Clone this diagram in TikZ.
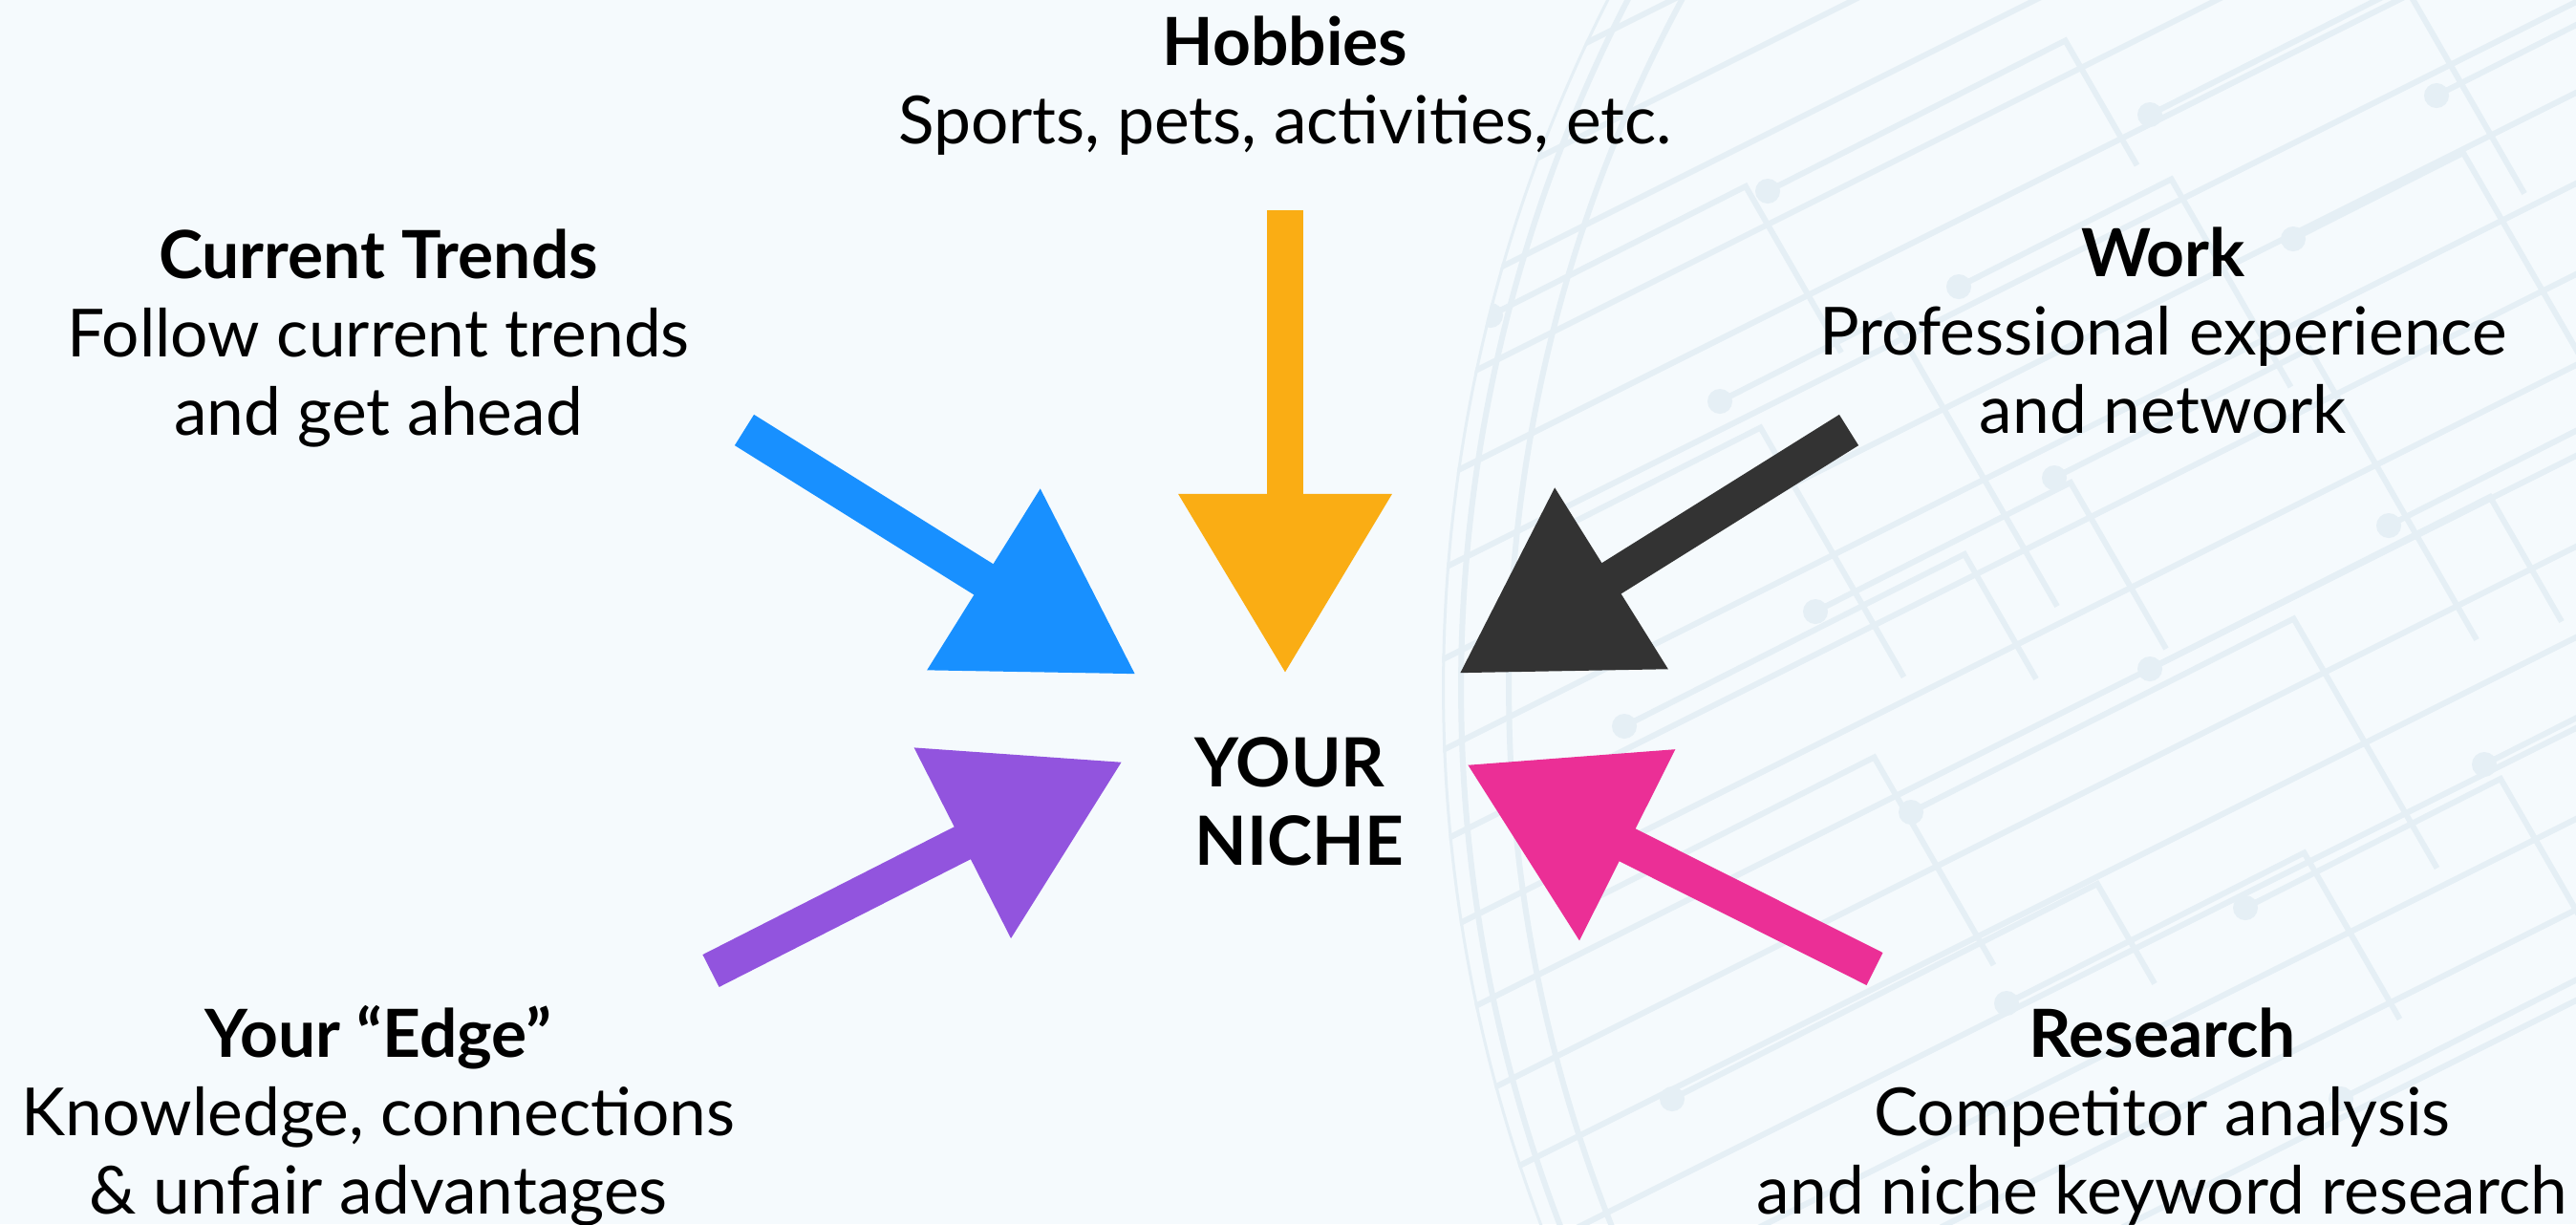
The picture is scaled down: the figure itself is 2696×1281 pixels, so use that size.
\documentclass[tikz,border=0pt]{standalone}
\usepackage{fontspec}
\setmainfont{Lato}
\usetikzlibrary{arrows.meta}
\definecolor{paper}{HTML}{F5FAFD}
\definecolor{trendblue}{HTML}{1890FF}
\definecolor{hobbygold}{HTML}{FAAD14}
\definecolor{workgray}{HTML}{333333}
\definecolor{edgepurple}{HTML}{9254DE}
\definecolor{researchpink}{HTML}{EB2F96}
\definecolor{circuit}{HTML}{E5EFF5}
\tikzset{
  feeder/.style={line width=0.38cm,-{Triangle[length=1.88cm,width=2.13cm]}},
  topic/.style={align=center,inner sep=0pt,anchor=base,font=\fontsize{19.75pt}{23.3pt}\selectfont},
  trace/.style={draw=circuit,line width=0.06cm},
}
\begin{document}
\begin{tikzpicture}[x=0.01cm,y=-0.01cm,line join=miter]
  \fill[paper] (0,0) rectangle (2696,1281);
  \useasboundingbox (0,0) rectangle (2696,1281);
  % faint circuit globe on the right
  \begin{scope}
    \clip (3100,720) circle (15.9cm);
    \foreach \k in {0,...,16}
      \draw[trace] (1450,{150+\k*95}) -- ++(1300,-650);
    \foreach \x/\y/\a/\b in {1560/330/300/200, 1620/560/250/300, 1700/760/400/150,
        1650/950/350/250, 1750/1150/500/120, 1800/420/200/350, 1900/640/300/200,
        2000/850/450/300, 2100/1050/350/200, 2050/300/250/250, 2150/500/300/350,
        2250/700/400/150, 2350/950/300/300, 2400/250/200/400, 2500/550/250/200,
        2450/1150/300/150, 2600/800/150/300, 1850/200/350/150, 2250/120/300/250,
        2550/100/200/300} {
      \draw[trace] (\x,\y) -- ++({\a*0.89},{-\a*0.45}) -- ++({\b*0.5},{\b*0.87});
      \fill[circuit] (\x,\y) circle (0.13cm);
    }
    \draw[trace] (3100,720) circle (15.9cm);
    \draw[trace] (3100,720) circle (15.7cm);
    \draw[trace] (3100,720) circle (15.2cm);
  \end{scope}

  % base = last line
  \node[topic] (hobbies) at (1345,150) {\textbf{Hobbies}\\Sports, pets, activities, etc.};
  \node[topic] (trends) at (396,455) {\textbf{Current Trends}\\Follow current trends\\and get ahead};
  \node[topic] (work) at (2264,453) {\textbf{Work}\\Professional experience\\and network};
  \node[topic] (edge) at (396,1270) {\textbf{Your “Edge”}\\Knowledge, connections\\\& unfair advantages};
  \node[topic] (research) at (2263,1270) {\textbf{Research}\\Competitor analysis\\and niche keyword research};
  \node[topic,align=left,anchor=base west,font=\fontsize{20.2pt}{23.3pt}\selectfont\bfseries] (niche) at (1250,905) {YOUR\\NICHE};

  \coordinate (trends-from) at (779,450);
  \coordinate (trends-to) at (1189,706);
  \coordinate (hobbies-from) at (1345,220);
  \coordinate (hobbies-to) at (1345,705);
  \coordinate (work-from) at (1935,450);
  \coordinate (work-to) at (1527,705);
  \coordinate (edge-from) at (744,1016);
  \coordinate (edge-to) at (1175,797);
  \coordinate (research-from) at (1962,1014);
  \coordinate (research-to) at (1535,800);

  \draw[feeder,trendblue] (trends-from) -- (trends-to);
  \draw[feeder,hobbygold] (hobbies-from) -- (hobbies-to);
  \draw[feeder,workgray] (work-from) -- (work-to);
  \draw[feeder,edgepurple] (edge-from) -- (edge-to);
  \draw[feeder,researchpink] (research-from) -- (research-to);
\end{tikzpicture}
\end{document}
